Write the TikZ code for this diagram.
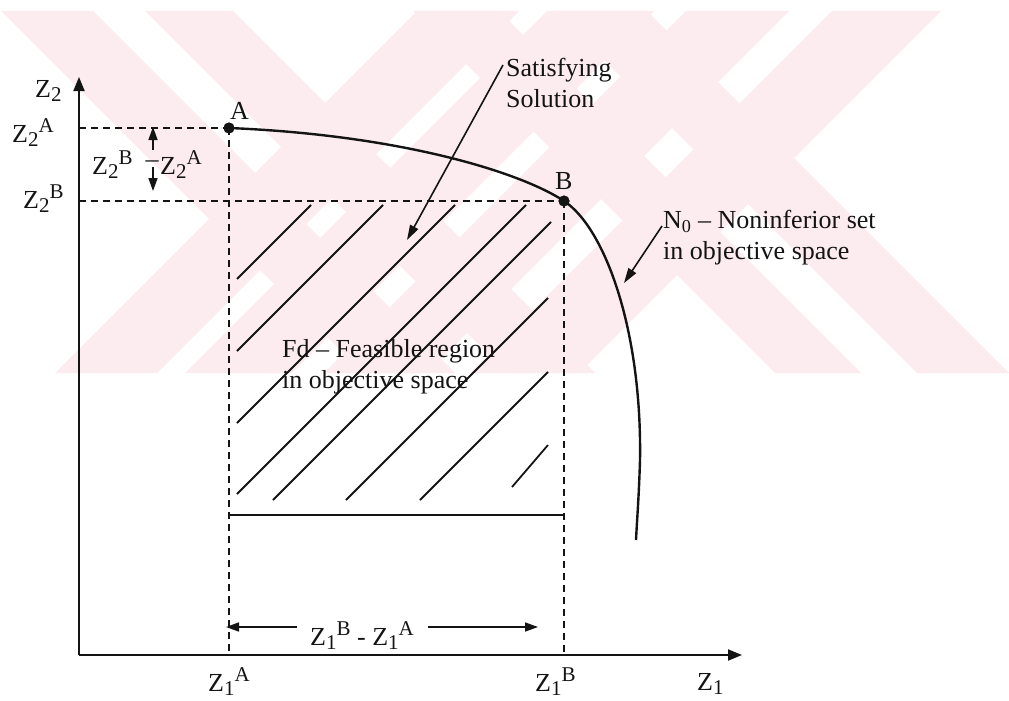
\documentclass[tikz,border=0pt]{standalone}
\usepackage{fontspec}
\setmainfont{Liberation Serif}
\usetikzlibrary{arrows.meta}
\definecolor{ink}{RGB}{20,20,20}
\definecolor{blush}{RGB}{252,235,239}
\newcommand{\zval}[2]{Z\raisebox{-4pt}{\fontsize{21}{21}\selectfont #1}\raisebox{10pt}{\fontsize{21}{21}\selectfont #2}}

\begin{document}
\begin{tikzpicture}[x=1pt, y=-1pt, font=\fontsize{26}{31}\selectfont]
  \tikzset{
    axis/.style={draw=ink, line width=2pt, -{Triangle[length=14pt, width=11pt]}},
    guide/.style={draw=ink, line width=2pt, dash pattern=on 7pt off 5pt},
    hatch/.style={draw=ink, line width=1.8pt},
    front/.style={draw=ink, line width=2.4pt},
    ptr/.style={draw=ink, line width=1.6pt, -{Triangle[length=15pt, width=9pt]}},
    dim/.style={draw=ink, line width=1.6pt, -{Triangle[length=13pt, width=9pt]}},
    lbl/.style={text=ink, inner sep=0pt},
    dot/.style={circle, fill=ink, inner sep=0pt, minimum size=11pt}}

  \useasboundingbox (0,0) rectangle (1009,701);

  % --- the faint stripes behind everything
  \begin{scope}
    \clip (0,11) rectangle (1009,373);
    \foreach \c/\d in {-10/82, 134/222, 402/488, 544/636}
      \fill[blush] (11+\c,11) -- (11+\d,11) -- (373+\d,373) -- (373+\c,373) -- cycle;
    \foreach \s/\t in {428/530, 558/665, 697/800, 843/952}
      \fill[blush] (\s-11,11) -- (\t-11,11) -- (\t-373,373) -- (\s-373,373) -- cycle;
  \end{scope}

  % --- axes and the two points
  \coordinate (O) at (79,655);
  \coordinate (Ztop) at (79,77);
  \coordinate (Zright) at (742,655);
  \node[dot] (A) at (229,128) {};
  \node[dot] (B) at (564,201) {};

  \draw[axis] (O) -- (Ztop);
  \draw[axis] (O) -- (Zright);

  \draw[guide] (O |- A) -- (A.center);
  \draw[guide] (A.center) -- (A |- O);
  \draw[guide] (O |- B) -- (B.center);
  \draw[guide] (B.center) -- (B |- O);

  % --- feasible region: hatching and lower edge
  \coordinate (Fl) at (229,515);
  \coordinate (Fr) at (564,515);
  \draw[hatch] (Fl) -- (Fr);
  \foreach \p/\q in {{311,205}/{237,279}, {383,205}/{237,351}, {455,205}/{237,423},
                     {526,205}/{237,494}, {551,222}/{273,500}, {548,298}/{346,500},
                     {548,372}/{420,500}, {548,445}/{512,487}}
    \draw[hatch] (\p) -- (\q);

  % --- noninferior set
  \coordinate (Nend) at (636,540);
  \draw[front] (A.center) .. controls (400,135) and (520,172) .. (B.center)
    .. controls (605,228) and (642,330) .. (640,460)
    .. controls (639,495) and (637,520) .. (Nend);
  \node[dot] at (A) {};
  \node[dot] at (B) {};

  % --- axis labels
  \node[lbl, anchor=base west] (zaxis) at (35,97) {\zval{2}{}};
  \node[lbl, anchor=base west] (z2a) at (12,142) {\zval{2}{A}};
  \node[lbl, anchor=base west] (z2b) at (23,208) {\zval{2}{B}};
  \node[lbl, anchor=base west] (la) at (230,119) {A};
  \node[lbl, anchor=base west] (lb) at (555,189) {B};
  \node[lbl, anchor=base west] (zx) at (697,690) {\zval{1}{}};
  \node[lbl, anchor=base west] (z1a) at (208,691) {\zval{1}{A}};
  \node[lbl, anchor=base west] (z1b) at (535,691) {\zval{1}{B}};

  % --- the two spans
  \node[lbl, anchor=base west] (dzb) at (92,174) {\zval{2}{B}};
  \node[lbl, anchor=base] (dzm) at (152,167) {–};
  \node[lbl, anchor=base west] (dza) at (160,174) {\zval{2}{A}};
  \coordinate (gapTs) at (153,150);
  \coordinate (gapT) at (153,127);
  \coordinate (gapBs) at (153,167);
  \coordinate (gapB) at (153,191);
  \draw[dim] (gapTs) -- (gapT);
  \draw[dim] (gapBs) -- (gapB);

  \node[lbl, anchor=base west] (dz1) at (310,645) {\zval{1}{B} - \zval{1}{A}};
  \coordinate (dimLs) at (297,627);
  \coordinate (dimL) at (226,627);
  \coordinate (dimRs) at (428,627);
  \coordinate (dimR) at (538,627);
  \draw[dim] (dimLs) -- (dimL);
  \draw[dim] (dimRs) -- (dimR);

  % --- callouts
  \node[lbl, anchor=north west, align=left] (sat) at (506,58) {Satisfying\\Solution};
  \coordinate (satTip) at (407,240);
  \draw[ptr] ([shift={(-3,7)}]sat.north west) -- (satTip);

  \node[lbl, anchor=north west, align=left] (noinf) at (663,210)
    {N\textsubscript{0} – Noninferior set\\in objective space};
  \coordinate (noinfTip) at (624,283);
  \draw[ptr] ([shift={(-1,16)}]noinf.north west) -- (noinfTip);

  \node[lbl, anchor=north west, align=left] (feas) at (282,339)
    {Fd – Feasible region\\in objective space};
\end{tikzpicture}
\end{document}
